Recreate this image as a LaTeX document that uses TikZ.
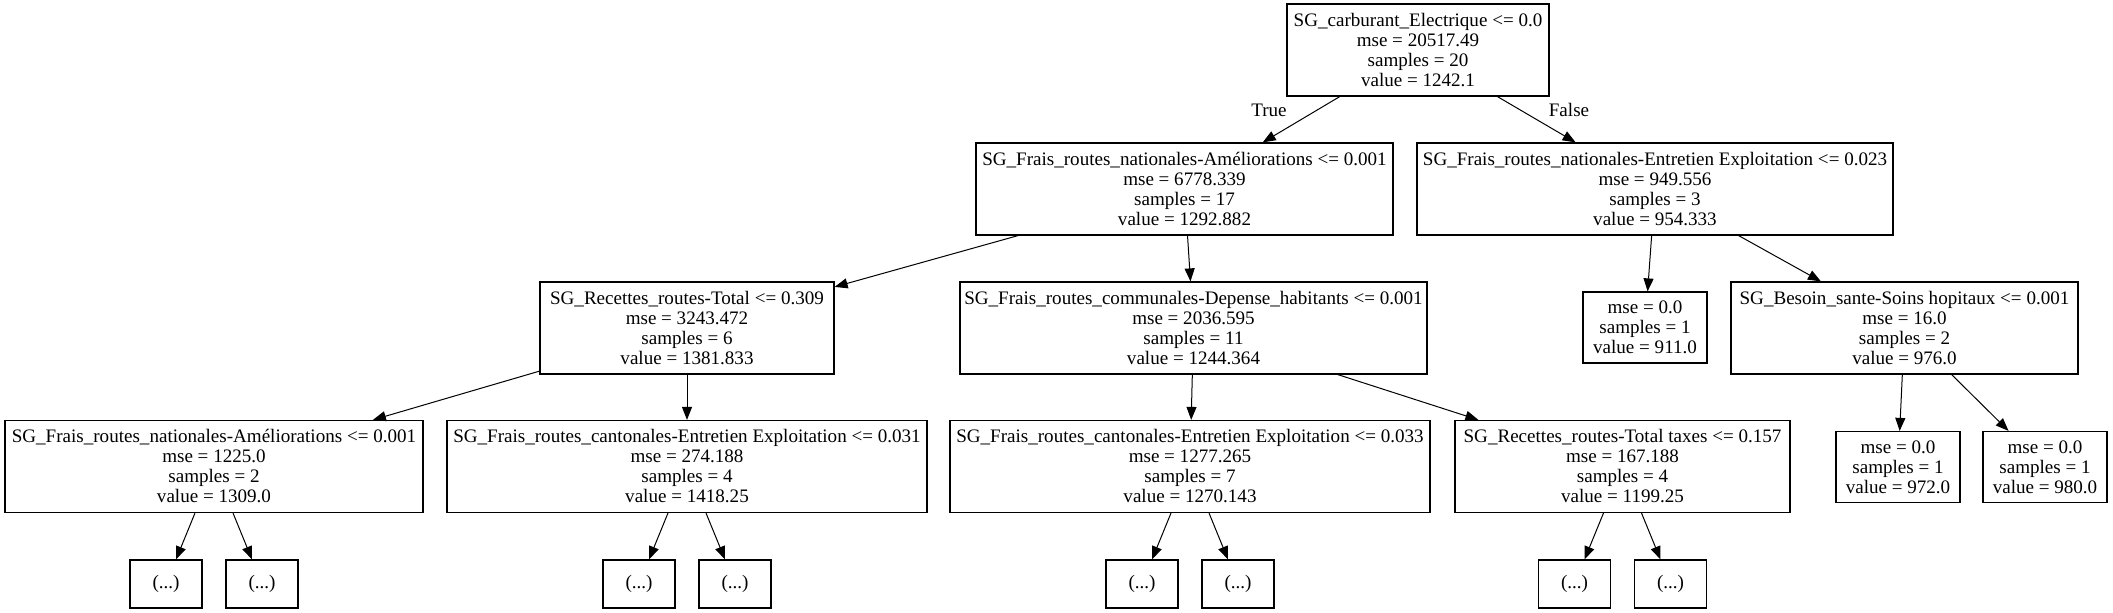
\documentclass[tikz,border=0pt]{standalone}
\usepackage{fontspec}
\setmainfont{Liberation Serif}
\usetikzlibrary{arrows.meta}

\begin{document}
\begin{tikzpicture}[
    x=0.75pt, y=-0.75pt,
    >={Triangle[length=9.75pt,width=7.5pt]},
    split/.style={
        draw, line width=0.9pt, inner sep=2pt,
        minimum height=69pt, align=center,
        font=\fontsize{14.3}{15}\selectfont
    },
    leaf/.style={split, minimum width=93pt, minimum height=53.25pt},
    more/.style={split, minimum width=54pt, minimum height=36pt},
    branch/.style={font=\fontsize{14.3}{15}\selectfont, inner sep=0pt}
]
\useasboundingbox (0,0) rectangle (2113,613);

% level 0 and 1
\node[split, minimum width=196.5pt] (root) at (1418, 50)
    {SG\_carburant\_Electrique <= 0.0\\mse = 20517.49\\samples = 20\\value = 1242.1};
\node[split, minimum width=312.75pt] (amel) at (1184.5, 189)
    {SG\_Frais\_routes\_nationales-Améliorations <= 0.001\\mse = 6778.339\\samples = 17\\value = 1292.882};
\node[split, minimum width=357pt] (entr) at (1655, 189)
    {SG\_Frais\_routes\_nationales-Entretien Exploitation <= 0.023\\mse = 949.556\\samples = 3\\value = 954.333};

% level 2
\node[split, minimum width=220.5pt] (rec) at (687, 328)
    {SG\_Recettes\_routes-Total <= 0.309\\mse = 3243.472\\samples = 6\\value = 1381.833};
\node[split, minimum width=350.25pt] (comm) at (1193.5, 328)
    {SG\_Frais\_routes\_communales-Depense\_habitants <= 0.001\\mse = 2036.595\\samples = 11\\value = 1244.364};
\node[leaf] (leafa) at (1645, 327.5) {mse = 0.0\\samples = 1\\value = 911.0};
\node[split, minimum width=260.25pt] (besoin) at (1904.5, 328)
    {SG\_Besoin\_sante-Soins hopitaux <= 0.001\\mse = 16.0\\samples = 2\\value = 976.0};

% level 3
\node[split, minimum width=313.5pt] (amelb) at (214, 466.5)
    {SG\_Frais\_routes\_nationales-Améliorations <= 0.001\\mse = 1225.0\\samples = 2\\value = 1309.0};
\node[split, minimum width=360pt] (cant) at (687, 466.5)
    {SG\_Frais\_routes\_cantonales-Entretien Exploitation <= 0.031\\mse = 274.188\\samples = 4\\value = 1418.25};
\node[split, minimum width=360pt] (canto) at (1190, 466.5)
    {SG\_Frais\_routes\_cantonales-Entretien Exploitation <= 0.033\\mse = 1277.265\\samples = 7\\value = 1270.143};
\node[split, minimum width=251.25pt] (taxes) at (1622.5, 466.5)
    {SG\_Recettes\_routes-Total taxes <= 0.157\\mse = 167.188\\samples = 4\\value = 1199.25};
\node[leaf] (leafb) at (1898, 467) {mse = 0.0\\samples = 1\\value = 972.0};
\node[leaf] (leafc) at (2045, 467) {mse = 0.0\\samples = 1\\value = 980.0};

% truncated subtrees
\node[more] (d1) at (166, 584) {(...)};
\node[more] (d2) at (262, 584) {(...)};
\node[more] (d3) at (639, 584) {(...)};
\node[more] (d4) at (735, 584) {(...)};
\node[more] (d5) at (1142, 584) {(...)};
\node[more] (d6) at (1238, 584) {(...)};
\node[more] (d7) at (1574.5, 584) {(...)};
\node[more] (d8) at (1670.5, 584) {(...)};

\node[branch] (yes) at (1269, 110) {True};
\node[branch] (no)  at (1569, 110) {False};

\draw[->, line width=0.75pt] (root) -- (amel);
\draw[->, line width=0.75pt] (root) -- (entr);
\draw[->, line width=0.75pt] (amel) -- (rec);
\draw[->, line width=0.75pt] (amel) -- (comm);
\draw[->, line width=0.75pt] (entr) -- (leafa);
\draw[->, line width=0.75pt] (entr) -- (besoin);
\draw[->, line width=0.75pt] (rec) -- (amelb);
\draw[->, line width=0.75pt] (rec) -- (cant);
\draw[->, line width=0.75pt] (comm) -- (canto);
\draw[->, line width=0.75pt] (comm) -- (taxes);
\draw[->, line width=0.75pt] (besoin) -- (leafb);
\draw[->, line width=0.75pt] (besoin) -- (leafc);
\draw[->, line width=0.75pt] (amelb) -- (d1);
\draw[->, line width=0.75pt] (amelb) -- (d2);
\draw[->, line width=0.75pt] (cant) -- (d3);
\draw[->, line width=0.75pt] (cant) -- (d4);
\draw[->, line width=0.75pt] (canto) -- (d5);
\draw[->, line width=0.75pt] (canto) -- (d6);
\draw[->, line width=0.75pt] (taxes) -- (d7);
\draw[->, line width=0.75pt] (taxes) -- (d8);

\end{tikzpicture}
\end{document}
